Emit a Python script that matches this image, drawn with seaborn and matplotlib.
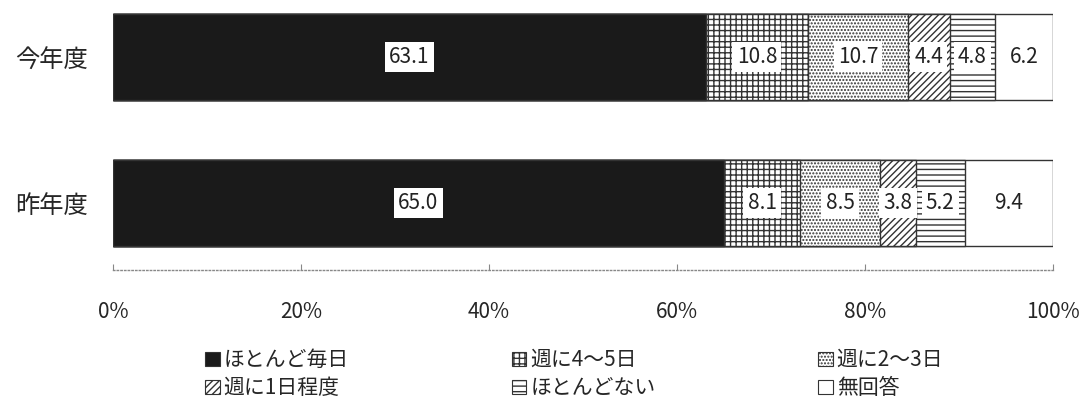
import numpy as np
import pandas as pd
import matplotlib.pyplot as plt
from matplotlib.patches import Patch
import seaborn as sns

sns.set_theme(style='white')
plt.rcParams['font.family'] = ['Noto Sans CJK JP', 'DejaVu Sans']
plt.rcParams['hatch.linewidth'] = 1.0

years = ['今年度', '昨年度']
categories = ['ほとんど毎日', '週に4～5日', '週に2～3日', '週に1日程度', 'ほとんどない', '無回答']
this_year = [63.1, 10.8, 10.7, 4.4, 4.8, 6.2]
last_year = [65.0, 8.1, 8.5, 3.8, 5.2, 9.4]

colors = ['#1a1a1a', 'white', 'white', 'white', 'white', 'white']
hatches = ['', '+++', '.....', '/////', '---', '']

df = pd.DataFrame({'year': years})
vals = np.array([this_year, last_year])
cum = np.cumsum(vals, axis=1)

fig = plt.figure(figsize=(10.83, 4.03), dpi=100)
ax = fig.add_axes([0.1043, 0.330, 0.868, 0.658])

# stacked bars: draw cumulative totals from the right end back to the left
for i in reversed(range(len(categories))):
    df['cum'] = cum[:, i]
    sns.barplot(data=df, x='cum', y='year', orient='h', ax=ax, color=colors[i],
                width=0.59, edgecolor='#333333', linewidth=1.0, hatch=hatches[i],
                saturation=1)

for r in range(2):
    for i in range(len(categories)):
        left = cum[r, i] - vals[r, i]
        ax.text(left + vals[r, i] / 2, r, f'{vals[r, i]:.1f}', ha='center', va='center',
                fontsize=15, color='#222222',
                bbox=dict(boxstyle='square,pad=0.2', facecolor='white', edgecolor='none'))

ax.set_xlim(0, 100)
ax.set_ylim(1.459, -0.356)
ax.set_xticks(np.arange(0, 101, 20))
ax.set_xticklabels([f'{t}%' for t in range(0, 101, 20)], fontsize=15)
ax.set_xlabel('')
ax.set_ylabel('')
ax.tick_params(axis='y', labelsize=17.5, length=0, pad=18)
ax.tick_params(axis='x', direction='in', length=4, width=0.8, color='#888888', pad=22, bottom=True)
for s in ['top', 'left', 'right']:
    ax.spines[s].set_visible(False)
ax.spines['bottom'].set_linestyle(':')
ax.spines['bottom'].set_color('#888888')
ax.spines['bottom'].set_linewidth(1.0)

# legend fills column by column, so reorder to read row by row
order = [0, 3, 1, 4, 2, 5]
handles = [Patch(facecolor=colors[i], edgecolor='#333333', hatch=hatches[i], linewidth=0.8)
           for i in order]
fig.legend(handles, [categories[i] for i in order], loc='upper left',
           bbox_to_anchor=(0.172, 0.18), ncol=3,
           frameon=False, fontsize=15, handlelength=0.7, handleheight=0.7, handletextpad=0.2,
           columnspacing=7.8, labelspacing=0.3)

fig.savefig('out.png', dpi=100)
